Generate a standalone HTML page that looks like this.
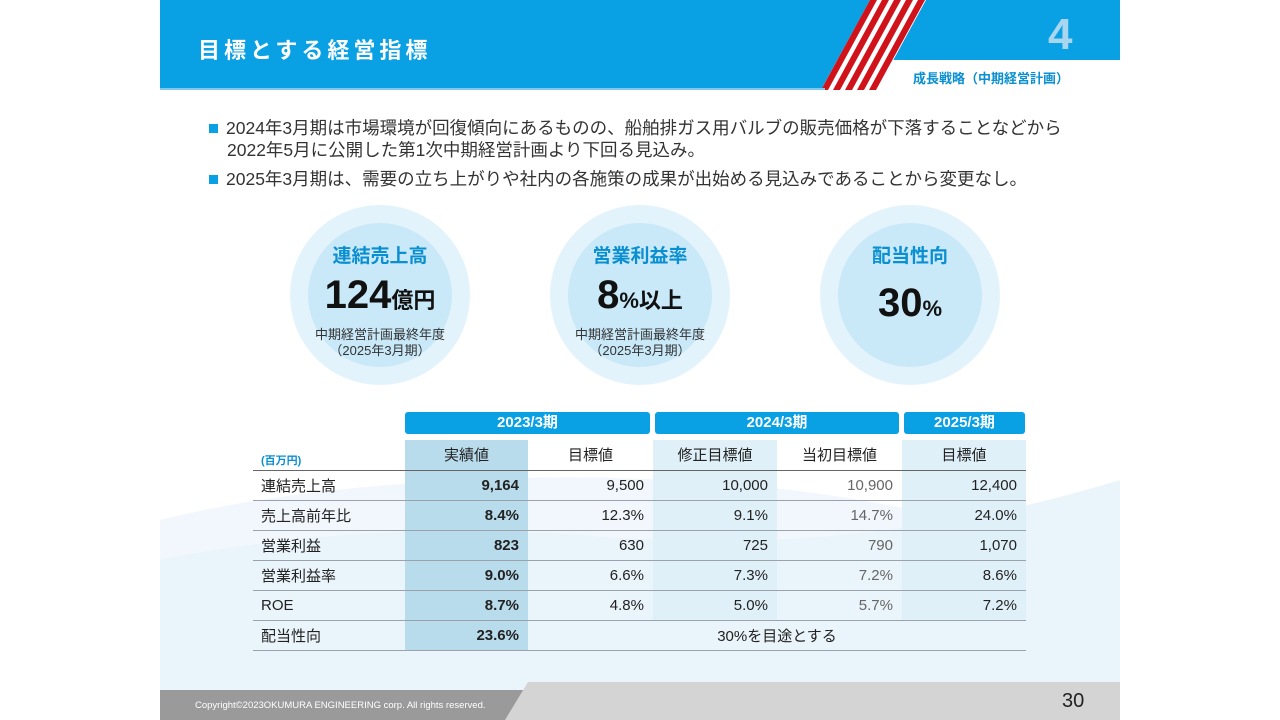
<!DOCTYPE html>
<html><head><meta charset="utf-8"><style>
*{margin:0;padding:0;box-sizing:border-box}
body{width:1280px;height:720px;background:#fff;position:relative;overflow:hidden;font-family:"Liberation Sans","Noto Sans CJK JP",sans-serif;color:#222}
.abs{position:absolute}
.circ{position:absolute;width:180px;height:180px;border-radius:50%;background:#e3f3fc}
.circ .in{position:absolute;left:18px;top:18px;width:144px;height:144px;border-radius:50%;background:#c9e9f9}
.circ .t{position:absolute;left:0;width:180px;text-align:center}
table{position:absolute;left:253px;top:440px;border-collapse:collapse;font-size:15px}
td{height:30px;padding:0 9px;text-align:right;border-bottom:1.5px solid #9aa3ab}
td:first-child{text-align:left;width:152px;padding-left:8px}
.c1{background:#b9dcec;font-weight:bold;width:123px}
.c2{width:125px}.c3{width:124px;background:#dff0f8}.c4{width:125px;color:#666}.c5{width:124px;background:#dff0f8}
tr.h td{text-align:center;border-bottom:1.5px solid #666}
.hb{position:absolute;top:412px;height:22px;background:#0aa0e4;color:#fff;font-weight:bold;font-size:15px;text-align:center;line-height:22px;border-radius:3px}
.b{display:inline-block;width:9px;height:9px;background:#0aa0e4;margin-right:8px;vertical-align:1px}
</style></head><body>
<svg class="abs" style="left:160px;top:0" width="960" height="720">
<path d="M0 520 Q120 490 300 480 Q520 470 700 500 Q860 530 960 535 L960 720 L0 720Z" fill="#f1f7fc"/>
<path d="M0 560 Q200 520 420 535 Q700 560 960 480 L960 720 L0 720Z" fill="#eaf4fb"/>
<rect x="0" y="0" width="960" height="60" fill="#0aa0e4"/>
<polygon points="0,0 710,0 661,90 0,90" fill="#0aa0e4"/>
<polygon points="710,0 766,0 717,90 661,90" fill="#fff"/>
<g fill="#d0121b"><polygon points="710,0 717,0 668,90 661,90"/><polygon points="722,0 729,0 680,90 673,90"/><polygon points="734,0 741,0 692,90 685,90"/><polygon points="746,0 753,0 704,90 697,90"/><polygon points="758,0 765,0 716,90 709,90"/></g>
<rect x="0" y="88" width="665" height="2" fill="#7ec8ee"/>
</svg>
<div class="abs" style="left:198px;top:33px;color:#fff;font-size:22px;font-weight:bold;letter-spacing:4px">目標とする経営指標</div>
<div class="abs" style="left:1048px;top:10px;color:#a8d6ee;font-size:44px;font-weight:bold">4</div>
<div class="abs" style="left:913px;top:68px;color:#0a8fd0;font-size:13px;font-weight:bold">成長戦略（中期経営計画）</div>
<div class="abs" style="left:209px;top:117px;font-size:17.5px;line-height:22px;color:#333">
<div><span class="b"></span>2024年3月期は市場環境が回復傾向にあるものの、船舶排ガス用バルブの販売価格が下落することなどから<br><span style="padding-left:18px">2022年5月に公開した第1次中期経営計画より下回る見込み。</span></div>
<div style="margin-top:7px"><span class="b"></span>2025年3月期は、需要の立ち上がりや社内の各施策の成果が出始める見込みであることから変更なし。</div>
</div>
<div class="circ" style="left:290px;top:205px"><div class="in"></div>
<div class="t" style="top:36px;color:#0a8fd0;font-size:19px;font-weight:bold">連結売上高</div>
<div class="t" style="top:68px;font-size:40px;font-weight:bold;color:#111">124<span style="font-size:22px">億円</span></div>
<div class="t" style="top:122px;font-size:13px;line-height:16px;color:#333">中期経営計画最終年度<br>（2025年3月期）</div></div>
<div class="circ" style="left:550px;top:205px"><div class="in"></div>
<div class="t" style="top:36px;color:#0a8fd0;font-size:19px;font-weight:bold">営業利益率</div>
<div class="t" style="top:68px;font-size:40px;font-weight:bold;color:#111">8<span style="font-size:22px">%以上</span></div>
<div class="t" style="top:122px;font-size:13px;line-height:16px;color:#333">中期経営計画最終年度<br>（2025年3月期）</div></div>
<div class="circ" style="left:820px;top:205px"><div class="in"></div>
<div class="t" style="top:36px;color:#0a8fd0;font-size:19px;font-weight:bold">配当性向</div>
<div class="t" style="top:76px;font-size:40px;font-weight:bold;color:#111">30<span style="font-size:22px">%</span></div></div>
<div class="hb" style="left:405px;width:245px">2023/3期</div>
<div class="hb" style="left:655px;width:244px">2024/3期</div>
<div class="hb" style="left:904px;width:121px">2025/3期</div>
<table>
<tr class="h" style="height:28px"><td style="font-size:11px;color:#0a8fd0;font-weight:bold;vertical-align:bottom;padding-bottom:2px;text-align:left">(百万円)</td><td class="c1" style="font-weight:normal">実績値</td><td class="c2">目標値</td><td class="c3">修正目標値</td><td class="c4" style="color:#222">当初目標値</td><td class="c5">目標値</td></tr>
<tr><td>連結売上高</td><td class="c1">9,164</td><td class="c2">9,500</td><td class="c3">10,000</td><td class="c4">10,900</td><td class="c5">12,400</td></tr>
<tr><td>売上高前年比</td><td class="c1">8.4%</td><td class="c2">12.3%</td><td class="c3">9.1%</td><td class="c4">14.7%</td><td class="c5">24.0%</td></tr>
<tr><td>営業利益</td><td class="c1">823</td><td class="c2">630</td><td class="c3">725</td><td class="c4">790</td><td class="c5">1,070</td></tr>
<tr><td>営業利益率</td><td class="c1">9.0%</td><td class="c2">6.6%</td><td class="c3">7.3%</td><td class="c4">7.2%</td><td class="c5">8.6%</td></tr>
<tr><td>ROE</td><td class="c1">8.7%</td><td class="c2">4.8%</td><td class="c3">5.0%</td><td class="c4">5.7%</td><td class="c5">7.2%</td></tr>
<tr><td>配当性向</td><td class="c1">23.6%</td><td colspan="4" style="text-align:center">30%を目途とする</td></tr>
</table>
<svg class="abs" style="left:160px;top:682px" width="960" height="38">
<polygon points="0,8 368,8 350,38 0,38" fill="#9a9a9a"/>
<polygon points="368,0 960,0 960,38 345,38" fill="#d4d4d4"/>
</svg>
<div class="abs" style="left:195px;top:700px;font-size:9.5px;color:#fff">Copyright©2023OKUMURA ENGINEERING corp. All rights reserved.</div>
<div class="abs" style="left:1062px;top:690px;font-size:20px;color:#222">30</div>
</body></html>
